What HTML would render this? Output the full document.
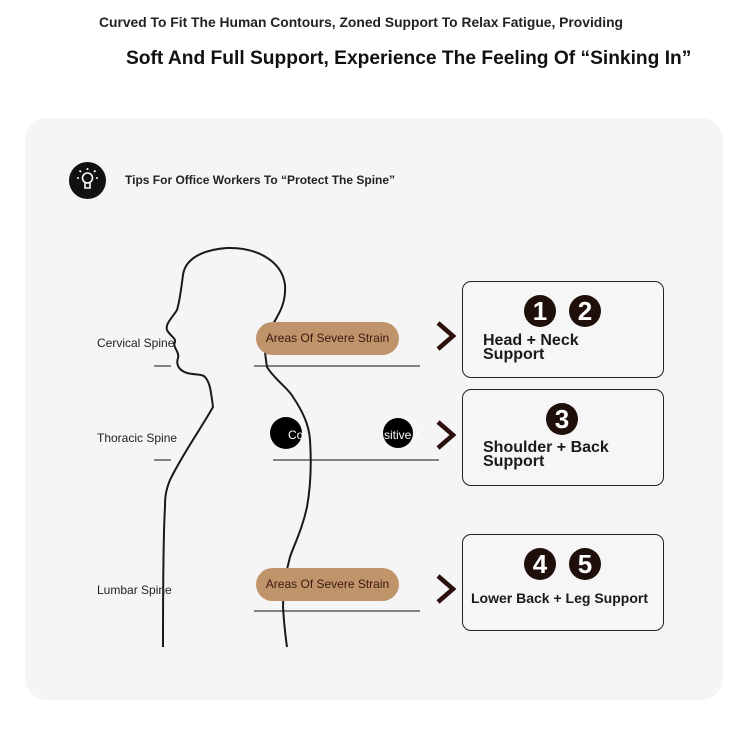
<!DOCTYPE html>
<html><head><meta charset="utf-8"><style>
body{margin:0;width:750px;height:730px;background:#fff;font-family:"Liberation Sans",Arial,sans-serif;position:relative;overflow:hidden}
.a{position:absolute;white-space:nowrap}
.card{position:absolute;left:25px;top:118px;width:698px;height:582px;background:#f5f5f5;border-radius:22px}
.box{position:absolute;left:462px;width:200px;border:1px solid #222;border-radius:9px;background:#f6f6f6}
.num{position:absolute;width:32px;height:32px;border-radius:50%;background:#1e0f0a;color:#fff;font-weight:bold;font-size:26px;line-height:32px;text-align:center}
.bt{position:absolute;font-size:16px;font-weight:bold;color:#1a1a1a;line-height:14px}
.pill{position:absolute;left:256px;width:143px;height:33px;border-radius:17px;background:#c0946a;color:#3a1a10;font-size:12px;line-height:33px;text-align:center}
.lab{position:absolute;left:97px;font-size:12px;color:#222}
</style></head><body>
<div class="a" style="left:99px;top:14px;font-size:13.85px;font-weight:bold;color:#222">Curved To Fit The Human Contours, Zoned Support To Relax Fatigue, Providing</div>
<div class="a" style="left:126px;top:48px;font-size:19.2px;font-weight:bold;color:#111">Soft And Full Support, Experience The Feeling Of “Sinking In”</div>
<div class="card"></div>
<div class="a" style="left:69px;top:162px;width:37px;height:37px;border-radius:50%;background:#111"></div>
<svg class="a" style="left:69px;top:162px" width="37" height="37"><g stroke="#fff" stroke-width="1.6" fill="none"><circle cx="18.5" cy="16" r="5"/><path d="M16 21v5h5v-5M10 16h-2M29 16h-2M12 10l-1.5-1.5M25 10l1.5-1.5M18.5 8V6"/></g></svg>
<div class="a" style="left:125px;top:173px;font-size:12px;font-weight:bold;color:#222">Tips For Office Workers To “Protect The Spine”</div>
<svg class="a" style="left:0;top:0" width="750" height="730">
<path d="M227 248 C200 250 185 260 183 275 C181 290 180 300 177 310 C172 318 165 324 167 330 C170 336 176 338 175 342 C172 347 180 352 178 358 C176 364 178 370 187 373 C195 375 203 374 205 377 C210 382 211 392 213 407 C200 430 182 455 170 480 C165 492 165 500 165 507 C163 540 163 600 163 647" fill="none" stroke="#1a1a1a" stroke-width="2"/>
<path d="M227 248 C255 247 282 260 285 285 C286 300 281 310 277 317 C272 327 266 332 265 340 C264 350 266 360 267 367 C275 380 288 388 293 397 C303 412 309 425 310 440 C312 470 310 490 307 507 C302 530 294 545 290 557 C285 575 283 590 283 607 C284 625 286 640 287 647" fill="none" stroke="#1a1a1a" stroke-width="2"/>
<g stroke="#111" stroke-width="1"><line x1="154" y1="366" x2="171" y2="366"/><line x1="154" y1="460" x2="171" y2="460"/><line x1="254" y1="366" x2="420" y2="366"/><line x1="273" y1="460" x2="439" y2="460"/><line x1="254" y1="611" x2="420" y2="611"/></g>
<g stroke="#2a0f0a" stroke-width="4.5" fill="none"><path d="M438 323l15 13-15 13"/><path d="M438 422l15 13-15 13"/><path d="M438 576l15 13-15 13"/></g>
<circle cx="286" cy="433" r="16" fill="#000"/><circle cx="398" cy="433" r="15" fill="#000"/>
</svg>
<div class="a" style="left:288px;top:428px;font-size:12px;color:#fff">Co</div>
<div class="a" style="left:384px;top:428px;font-size:12px;color:#fff">sitive A</div>
<div class="lab" style="top:336px">Cervical Spine</div>
<div class="lab" style="top:431px">Thoracic Spine</div>
<div class="lab" style="top:583px">Lumbar Spine</div>
<div class="pill" style="top:322px">Areas Of Severe Strain</div>
<div class="pill" style="top:568px">Areas Of Severe Strain</div>
<div class="box" style="top:281px;height:95px"><div class="num" style="left:61px;top:13px">1</div><div class="num" style="left:106px;top:13px">2</div><div class="bt" style="left:20px;top:52px">Head + Neck<br>Support</div></div>
<div class="box" style="top:389px;height:95px"><div class="num" style="left:83px;top:13px">3</div><div class="bt" style="left:20px;top:51px">Shoulder + Back<br>Support</div></div>
<div class="box" style="top:534px;height:95px"><div class="num" style="left:61px;top:13px">4</div><div class="num" style="left:106px;top:13px">5</div><div class="bt" style="left:8px;top:56px;font-size:14px">Lower Back + Leg Support</div></div>
</body></html>
